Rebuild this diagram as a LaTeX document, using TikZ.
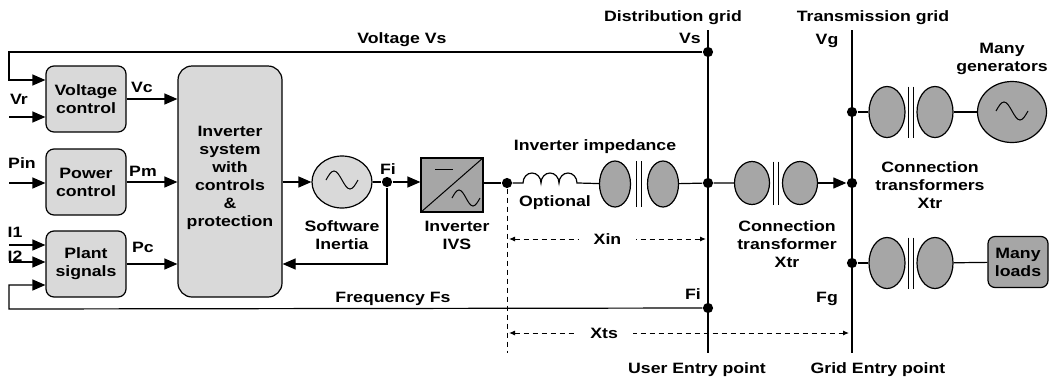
\documentclass[tikz,border=0pt]{standalone}
\usepackage{fontspec}
\setmainfont{Liberation Sans}[FakeStretch=1.18]
\usetikzlibrary{calc,shapes.geometric,arrows.meta}
\definecolor{boxgray}{HTML}{D9D9D9}
\definecolor{partgray}{HTML}{A6A6A6}
\newcommand{\dotsize}{3.6pt}
\newcommand{\lbl}{\bfseries\fontsize{15}{18}\selectfont}
\newcommand{\wave}[3]{\draw[line width=1pt] ($(#1)+(-2*#2,0)$) sin ++(#2,-#3) cos ++(#2,#3) sin ++(#2,#3) cos ++(#2,-#3);}

\begin{document}
\begin{tikzpicture}[x=1pt,y=-1pt,line width=1.2pt,
    every node/.style={font=\lbl,align=center},
    ctrl/.style={draw,rounded corners=8pt,fill=boxgray,minimum width=80,minimum height=66,inner sep=0},
    dot/.style={circle,fill,inner sep=\dotsize},
    xfcoil/.style={draw,ellipse,fill=partgray,inner sep=0},
    flow/.style={-{Triangle[length=13pt,width=11pt]}},
    dimline/.style={dash pattern=on 5pt off 4pt,line width=1pt,{Latex[length=6pt,width=5pt]}-{Latex[length=6pt,width=5pt]}},
    txt/.style={anchor=base}]
  \useasboundingbox (0,0) rectangle (1049,381);
      %% control side
      \node (vcb) at (86,99) [ctrl] {Voltage\\control};
      \node (pcb) at (86,182) [ctrl] {Power\\control};
      \node (psb) at (86,264) [ctrl] {Plant\\signals};
      \node (isys) at (230,181.5) [ctrl,minimum width=104,minimum height=231,rounded corners=14pt] {};
      \node[txt] at (230,226) {Inverter\\system\\with\\controls\\\&\\protection};
      \node (swi) at (342,182) [draw,ellipse,fill=boxgray,minimum width=60,minimum height=52] {};
      \node (fi1) at (387,182) [dot] {};
      \node (ivs) at (452,185) [draw,fill=partgray,minimum width=62,minimum height=54,inner sep=0] {};
      \node (out) at (507,183) [dot] {};
      \coordinate (ind1) at (523,183);
      \coordinate (ind2) at (578,183);
      \coordinate (fbk) at (387,264);
      \foreach \j/\y in {c1/52,c2/80,c3/309,c4/285,vr/117,pin/183,i1/245,i2/262}
      { \coordinate (\j) at (9,\y);}

      %% grid side
      \foreach \n/\x/\y/\w/\h in {ta/615/184/31/46,tb/752/183/35/43,tc/887/112/36/51,td/887/263/36/51}
      { \node (\n1) at (\x,\y) [xfcoil,minimum width=\w,minimum height=\h] {};
        \node (\n2) at (\x+48,\y) [xfcoil,minimum width=\w,minimum height=\h] {};
        \draw (\x+21.5,\y-\h/2) -- (\x+21.5,\y+\h/2) (\x+26.5,\y-\h/2) -- (\x+26.5,\y+\h/2);}
      \coordinate (dtop) at (708,30);
      \coordinate (dbot) at (708,353);
      \coordinate (ttop) at (852,30);
      \coordinate (tbot) at (852,353);
      \draw (dtop) -- (dbot);
      \draw (ttop) -- (tbot);
      \node (dvs) at (708,52) [dot] {};
      \node (dmid) at (708,183) [dot] {};
      \node (dfi) at (708,308) [dot] {};
      \node (tup) at (852,112) [dot] {};
      \node (tmid) at (852,183) [dot] {};
      \node (tlow) at (852,263) [dot] {};
      \node (gen) at (1012,112) [xfcoil,minimum width=69,minimum height=61] {};
      \node (lds) at (1018,262) [ctrl,fill=partgray,minimum width=60,minimum height=51,rounded corners=7pt] {Many\\loads};

      \draw[flow] (dvs) -- (c1) -- (c2) -- (c2 -| vcb.west);
      \draw[flow] (vr) -- (vr -| vcb.west);
      \draw[flow] (pin) -- (pin -| pcb.west);
      \draw[flow] (i1) -- (i1 -| psb.west);
      \draw[flow] (i2) -- (i2 -| psb.west);
      \draw[flow] (dfi) -- (c3) -- (c4) -- (c4 -| psb.west);
      \draw[flow] (vcb.east) -- (vcb.east -| isys.west);
      \draw[flow] (pcb.east) -- (pcb.east -| isys.west);
      \draw[flow] (psb.east) -- (psb.east -| isys.west);
      \draw[flow] (isys.east |- swi) -- (swi);
      \draw (swi) -- (fi1);
      \draw[flow] (fi1) -- (fi1 -| ivs.west);
      \draw[flow] (fi1) -- (fbk) -- (fbk -| isys.east);
      \draw (ivs.east |- out) -- (out);
      \draw (out) -- (ind1) arc[start angle=180,end angle=360,x radius=9,y radius=10]
        arc[start angle=180,end angle=360,x radius=9,y radius=10]
        arc[start angle=180,end angle=360,x radius=9,y radius=10] -- (ind2) -- (ta1);
      \draw (ta2) -- (dmid) -- (tb1);
      \draw[flow] (tb2) -- (tmid);
      \draw (tup) -- (tc1);
      \draw (tc2) -- (gen);
      \draw (tlow) -- (td1);
      \draw (td2) -- (lds);

      \wave{342,180}{8}{9}
      \wave{466,198}{7}{8}
      \wave{1012,111}{8}{9}
      \draw[line width=1pt] (ivs.south west) -- (ivs.north east);
      \draw[line width=1pt] (435,169) -- (453,169);

      \draw[dash pattern=on 5pt off 4pt,line width=1pt] (out) -- (out |- dbot);
      \coordinate (xin1) at (509,239);
      \coordinate (xin2) at (706,239);
      \coordinate (xts1) at (509,333);
      \coordinate (xts2) at (849,333);
      \draw[dimline] (xin1) -- node[fill=white,inner xsep=15pt] {Xin} (xin2);
      \draw[dimline] (xts1) -- node[pos=.28,fill=white,inner xsep=15pt] {Xts} (xts2);

      \node[txt] at (402,43) {Voltage Vs};
      \node[txt] at (393,302) {Frequency Fs};
      \node[txt] at (673,21) {Distribution grid};
      \node[txt] at (873,21) {Transmission grid};
      \node[txt] at (690,43) {Vs};
      \node[txt] at (827,44) {Vg};
      \node[txt] at (1002,71) {Many\\generators};
      \node[txt] at (142,92) {Vc};
      \node[txt] at (19,104) {Vr};
      \node[txt] at (22,168) {Pin};
      \node[txt] at (143,176) {Pm};
      \node[txt] at (15,237) {I1};
      \node[txt] at (15,261) {I2};
      \node[txt] at (143,252) {Pc};
      \node[txt] at (388,174) {Fi};
      \node[txt] at (693,299) {Fi};
      \node[txt] at (827,302) {Fg};
      \node[txt] at (697,373) {User Entry point};
      \node[txt] at (878,373) {Grid Entry point};
      \node[txt] at (595,150) {Inverter impedance};
      \node[txt] at (555,206) {Optional};
      \node[txt] at (342,249) {Software\\Inertia};
      \node[txt] at (457,249) {Inverter\\IVS};
      \node[txt] at (787,267) {Connection\\transformer\\Xtr};
      \node[txt] at (930,208) {Connection\\transformers\\Xtr};
\end{tikzpicture}
\end{document}
